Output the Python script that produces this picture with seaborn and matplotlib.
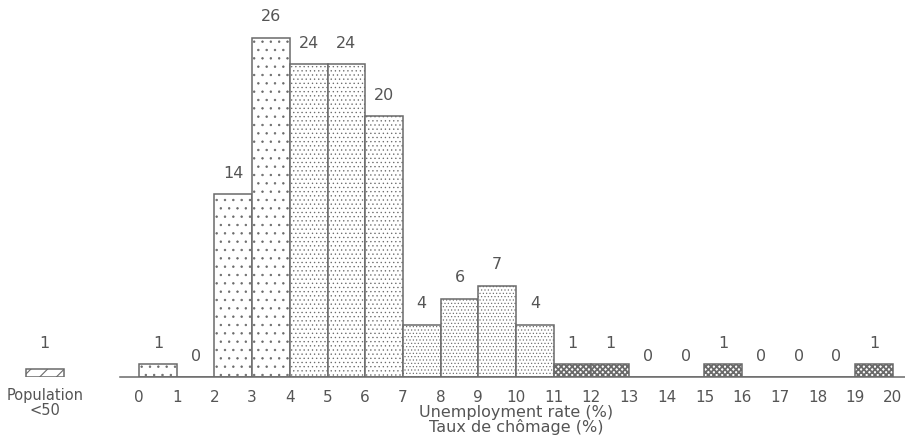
import numpy as np
import pandas as pd
import matplotlib
matplotlib.use('Agg')
import matplotlib.pyplot as plt
import matplotlib.transforms as mtransforms
import seaborn as sns

# Unemployment rate bins (left edges, %) and number of regions per bin
bin_left = list(range(0, 20))
counts = [1, 0, 14, 26, 24, 24, 20, 4, 6, 7, 4, 1, 1, 0, 0, 1, 0, 0, 0, 1]
# shading group per bin: 0 sparse dots, 1 medium dots, 2 dense dots, 3 dark
shade_group = [0, 0, 0, 0, 1, 1, 1, 2, 2, 2, 2, 3, 3, 3, 3, 3, 3, 3, 3, 3]
tick_labels = [str(i) for i in range(0, 21)]

# regions with population < 50 (shown apart, left)
small_pop_count = 1
small_pop_label = 'Population\n<50'

xlabel = 'Unemployment rate (%)\nTaux de chômage (%)'

df = pd.DataFrame({'rate': [b + 0.5 for b in bin_left], 'n': counts})

sns.set_style('white')
plt.rcParams['font.family'] = ['DejaVu Sans']
plt.rcParams['hatch.linewidth'] = 0.45

grey = '#6a6a6a'
text_grey = '#555555'
hatches = {0: '..', 1: '....', 2: '.....', 3: 'xxxxxx'}
hatch_lw = {0: 0.5, 1: 0.45, 2: 0.45, 3: 1.3}

fig = plt.figure(figsize=(9.05, 4.47), dpi=100)
ax = fig.add_axes([0, 70 / 447, 1, 377 / 447])

edges = list(range(0, 21))
sns.histplot(data=df, x='rate', weights='n', bins=edges, ax=ax,
             color='white', edgecolor=grey, linewidth=1.1, alpha=1)

for patch, g in zip(ax.patches, shade_group):
    patch.set_hatch(hatches[g])
    patch.set_edgecolor(grey)
    if hasattr(patch, 'set_hatch_linewidth'):
        patch.set_hatch_linewidth(hatch_lw[g])

# count labels above each bin
for x0, c in zip(bin_left, counts):
    ax.annotate(str(c), (x0 + 0.5, c), xytext=(0, 15), textcoords='offset points',
                ha='center', va='center', fontsize=11.5, color=text_grey)

# key box for small-population regions
key = ax.bar(-2.5, 0.65, width=1, bottom=0, color='white', edgecolor=grey,
             linewidth=1.1, hatch='//')
for p in key:
    if hasattr(p, 'set_hatch_linewidth'):
        p.set_hatch_linewidth(0.8)
ax.annotate(str(small_pop_count), (-2.5, small_pop_count), xytext=(0, 15),
            textcoords='offset points', ha='center', va='center',
            fontsize=11.5, color=text_grey)
ax.annotate(small_pop_label, (-2.5, 0), xytext=(0, -8), textcoords='offset points',
            ha='center', va='top', fontsize=10.5, color=text_grey, linespacing=1.0)

ax.set_xlim(-3.69, 20.32)
ax.set_ylim(0, 28.9)
ax.set_xticks(edges)
ax.set_xticklabels(tick_labels)
ax.set_yticks([])
ax.set_ylabel('')
for side in ['left', 'right', 'top']:
    ax.spines[side].set_visible(False)
ax.spines['bottom'].set_color(grey)
ax.spines['bottom'].set_linewidth(1.1)
ax.spines['bottom'].set_bounds(-0.5, 20.32)
ax.tick_params(axis='x', direction='out', length=3.5, width=1, color=grey,
               pad=6, labelsize=11, labelcolor=text_grey)

ax.set_xlabel(xlabel, fontsize=11.5, color=text_grey, linespacing=0.95)
trans = mtransforms.blended_transform_factory(ax.transData, ax.transAxes)
ax.xaxis.set_label_coords(10, -0.074, transform=trans)

fig.savefig('out.png', dpi=100)
